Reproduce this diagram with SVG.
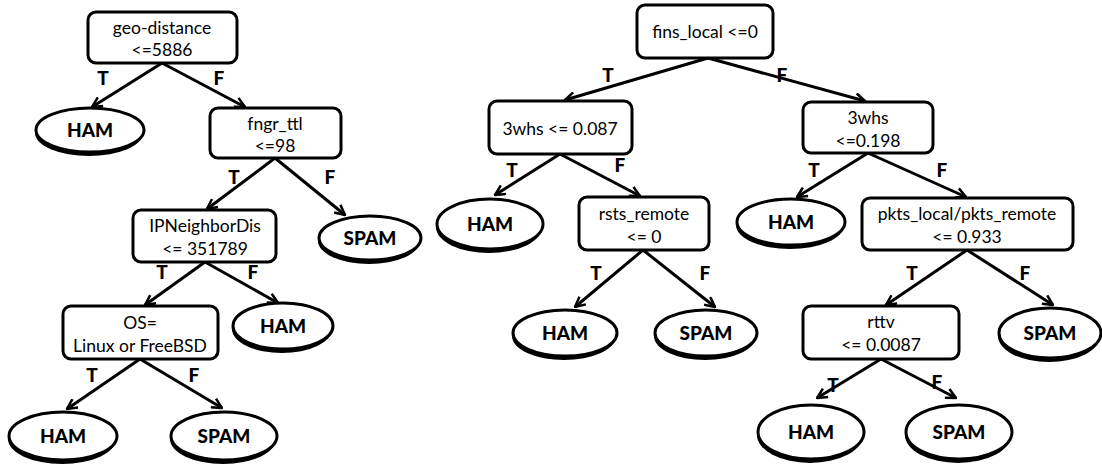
<svg xmlns="http://www.w3.org/2000/svg" width="1102" height="468" viewBox="0 0 1102 468">
<style>
.box{fill:#fff;stroke:#000;stroke-width:3}
.sh{fill:#000}
.el{fill:#fff;stroke:#000;stroke-width:3}
.t{font-family:Lato,"Liberation Sans",sans-serif;font-size:17.5px;text-anchor:middle;fill:#000}
.b{font-family:Lato,"Liberation Sans",sans-serif;font-size:19px;font-weight:900;text-anchor:middle;fill:#000}
.e{stroke:#000;stroke-width:3;fill:none;marker-end:url(#ar)}
</style>
<defs>
<marker id="ar" viewBox="0 0 12 12" refX="11" refY="6" markerWidth="12" markerHeight="12" markerUnits="userSpaceOnUse" orient="auto">
<path d="M1,1 L11,6 L1,11" fill="none" stroke="#000" stroke-width="2.5"/>
</marker>
</defs>
<g id="connectors">
<line class="e" x1="162" y1="63" x2="92" y2="107"/>
<line class="e" x1="162" y1="63" x2="245" y2="107"/>
<line class="e" x1="275" y1="158" x2="207" y2="209"/>
<line class="e" x1="275" y1="158" x2="345" y2="215"/>
<line class="e" x1="205" y1="262" x2="145" y2="305"/>
<line class="e" x1="205" y1="262" x2="278" y2="303"/>
<line class="e" x1="140" y1="359" x2="67" y2="409"/>
<line class="e" x1="140" y1="359" x2="222" y2="408"/>
<line class="e" x1="708" y1="58" x2="565" y2="100"/>
<line class="e" x1="708" y1="58" x2="865" y2="101"/>
<line class="e" x1="560" y1="154" x2="495" y2="195"/>
<line class="e" x1="560" y1="154" x2="640" y2="196"/>
<line class="e" x1="643" y1="250" x2="575" y2="307"/>
<line class="e" x1="643" y1="250" x2="715" y2="307"/>
<line class="e" x1="868" y1="153" x2="797" y2="197"/>
<line class="e" x1="868" y1="153" x2="966" y2="197"/>
<line class="e" x1="967" y1="250" x2="886" y2="305"/>
<line class="e" x1="967" y1="250" x2="1053" y2="305"/>
<line class="e" x1="881" y1="359" x2="817" y2="398"/>
<line class="e" x1="881" y1="359" x2="956" y2="398"/>
</g>
<g id="labels">
<text class="b" x="103" y="85">T</text>
<text class="b" x="219" y="85">F</text>
<text class="b" x="234" y="184">T</text>
<text class="b" x="330" y="184">F</text>
<text class="b" x="162" y="279">T</text>
<text class="b" x="253" y="279">F</text>
<text class="b" x="92" y="382">T</text>
<text class="b" x="194" y="382">F</text>
<text class="b" x="608" y="82">T</text>
<text class="b" x="782" y="82">F</text>
<text class="b" x="512" y="177">T</text>
<text class="b" x="620" y="172">F</text>
<text class="b" x="596" y="280">T</text>
<text class="b" x="705" y="280">F</text>
<text class="b" x="814" y="177">T</text>
<text class="b" x="942" y="177">F</text>
<text class="b" x="912" y="280">T</text>
<text class="b" x="1025" y="280">F</text>
<text class="b" x="833" y="392">T</text>
<text class="b" x="937" y="389">F</text>
</g>
<g id="n-geo"><rect class="box" x="88" y="12" width="149" height="51" rx="8"/><text class="t" x="162" y="34">geo-distance</text><text class="t" x="162" y="56">&lt;=5886</text></g>
<g id="n-ham1"><ellipse class="sh" cx="89" cy="133" rx="54" ry="23"/><ellipse class="el" cx="90" cy="130" rx="54" ry="22"/><text class="b" x="90" y="137">HAM</text></g>
<g id="n-fngr"><rect class="box" x="210" y="108" width="131" height="50" rx="8"/><text class="t" x="275" y="130">fngr_ttl</text><text class="t" x="275" y="152">&lt;=98</text></g>
<g id="n-spam1"><ellipse class="sh" cx="369" cy="241" rx="51" ry="23"/><ellipse class="el" cx="370" cy="238" rx="51" ry="22"/><text class="b" x="370" y="245">SPAM</text></g>
<g id="n-ipn"><rect class="box" x="133" y="210" width="143" height="52" rx="8"/><text class="t" x="205" y="232">IPNeighborDis</text><text class="t" x="205" y="255">&lt;= 351789</text></g>
<g id="n-ham2"><ellipse class="sh" cx="282" cy="329" rx="50" ry="24"/><ellipse class="el" cx="283" cy="326" rx="50" ry="23"/><text class="b" x="283" y="333">HAM</text></g>
<g id="n-os"><rect class="box" x="63" y="306" width="155" height="53" rx="8"/><text class="t" x="140" y="329">OS=</text><text class="t" x="140" y="352">Linux or FreeBSD</text></g>
<g id="n-ham3"><ellipse class="sh" cx="62" cy="439" rx="54" ry="25"/><ellipse class="el" cx="63" cy="436" rx="54" ry="24"/><text class="b" x="63" y="443">HAM</text></g>
<g id="n-spam2"><ellipse class="sh" cx="223" cy="439" rx="53" ry="25"/><ellipse class="el" cx="224" cy="436" rx="53" ry="24"/><text class="b" x="224" y="443">SPAM</text></g>
<g id="n-fins"><rect class="box" x="637" y="5" width="136" height="53" rx="8"/><text class="t" x="705" y="38">fins_local &lt;=0</text></g>
<g id="n-3whs1"><rect class="box" x="489" y="101" width="143" height="53" rx="8"/><text class="t" x="560" y="135">3whs &lt;= 0.087</text></g>
<g id="n-ham4"><ellipse class="sh" cx="489" cy="227" rx="53" ry="26"/><ellipse class="el" cx="490" cy="224" rx="53" ry="25"/><text class="b" x="490" y="231">HAM</text></g>
<g id="n-rsts"><rect class="box" x="579" y="197" width="130" height="53" rx="8"/><text class="t" x="644" y="220">rsts_remote</text><text class="t" x="644" y="243">&lt;= 0</text></g>
<g id="n-ham5"><ellipse class="sh" cx="564" cy="336" rx="52" ry="24"/><ellipse class="el" cx="565" cy="333" rx="52" ry="23"/><text class="b" x="565" y="340">HAM</text></g>
<g id="n-spam3"><ellipse class="sh" cx="705" cy="336" rx="51" ry="24"/><ellipse class="el" cx="706" cy="333" rx="51" ry="23"/><text class="b" x="706" y="340">SPAM</text></g>
<g id="n-3whs2"><rect class="box" x="803" y="102" width="130" height="51" rx="8"/><text class="t" x="868" y="124">3whs</text><text class="t" x="868" y="147">&lt;=0.198</text></g>
<g id="n-ham6"><ellipse class="sh" cx="790" cy="225" rx="54" ry="24"/><ellipse class="el" cx="791" cy="222" rx="54" ry="23"/><text class="b" x="791" y="229">HAM</text></g>
<g id="n-pkts"><rect class="box" x="862" y="198" width="211" height="52" rx="8"/><text class="t" x="967" y="220">pkts_local/pkts_remote</text><text class="t" x="967" y="243">&lt;= 0.933</text></g>
<g id="n-rttv"><rect class="box" x="803" y="306" width="156" height="53" rx="8"/><text class="t" x="881" y="328">rttv</text><text class="t" x="881" y="351">&lt;= 0.0087</text></g>
<g id="n-spam4"><ellipse class="sh" cx="1049" cy="336" rx="51" ry="26"/><ellipse class="el" cx="1050" cy="333" rx="51" ry="25"/><text class="b" x="1050" y="340">SPAM</text></g>
<g id="n-ham7"><ellipse class="sh" cx="810" cy="435" rx="53" ry="28"/><ellipse class="el" cx="811" cy="432" rx="53" ry="27"/><text class="b" x="811" y="439">HAM</text></g>
<g id="n-spam5"><ellipse class="sh" cx="958" cy="435" rx="53" ry="28"/><ellipse class="el" cx="959" cy="432" rx="53" ry="27"/><text class="b" x="959" y="439">SPAM</text></g>
</svg>
